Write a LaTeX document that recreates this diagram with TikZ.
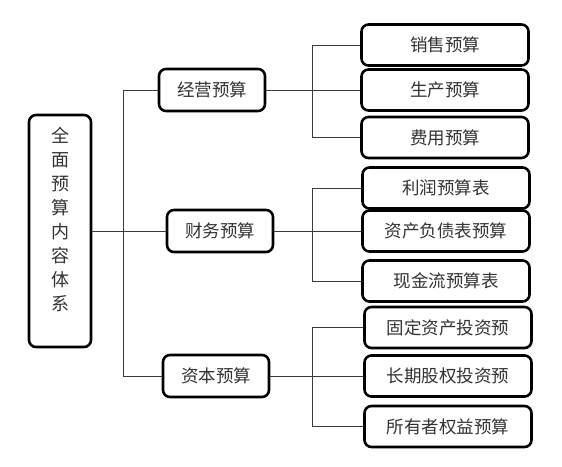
\documentclass[tikz,border=0pt]{standalone}
\usepackage{fontspec}
\newfontfamily\cjk{Noto Sans CJK SC}
\definecolor{txtgray}{HTML}{333333}
\definecolor{linegray}{HTML}{3A3A3A}
\begin{document}
\begin{tikzpicture}[x=1pt,y=-1pt,
    box/.style={draw=black, line width=2.6pt, rounded corners=7pt, inner sep=0pt,
        text=txtgray, font=\cjk\fontsize{17.5}{19}\selectfont},
    midbox/.style={box, minimum width=106pt, minimum height=42pt},
    leafbox/.style={box, minimum width=167pt, minimum height=41pt},
    conn/.style={draw=linegray, line width=1pt}]
    \useasboundingbox (0,0) rectangle (562,466);
    % 根节点
    \node[box, minimum width=62pt, minimum height=232pt, align=center,
        font=\cjk\fontsize{18}{24}\selectfont] (root) at (60,231)
        {全\\面\\预\\算\\内\\容\\体\\系\\\mbox{}};
    % 第二层
    \node[midbox] (op) at (212,90) {经营预算};
    \node[midbox] (fin) at (220,231) {财务预算};
    \node[midbox] (cap) at (216,376) {资本预算};
    % 第三层
    \node[leafbox] (sales) at (445,45) {销售预算};
    \node[leafbox] (prod) at (445,90) {生产预算};
    \node[leafbox] (cost) at (445,137.5) {费用预算};
    \node[leafbox] (profit) at (446,188) {利润预算表};
    \node[leafbox] (asset) at (446,231) {资产负债表预算};
    \node[leafbox] (cash) at (446,281) {现金流预算表};
    \node[leafbox] (fixed) at (448,327.5) {固定资产投资预};
    \node[leafbox] (equity) at (448,376) {长期股权投资预};
    \node[leafbox] (owner) at (448,426.5) {所有者权益预算};
    % 主干
    \coordinate (trunk) at (123,0);
    \draw[conn] (root.east) -- (fin.west);
    \draw[conn] (op.west) -- (op.west -| trunk) -- (cap.west -| trunk) -- (cap.west);
    % 分支
    \coordinate (br) at (312,0);
    \draw[conn] (op.east) -- (prod.west);
    \draw[conn] (sales.west) -- (sales.west -| br) -- (cost.west -| br) -- (cost.west);
    \draw[conn] (fin.east) -- (asset.west);
    \draw[conn] (profit.west) -- (profit.west -| br) -- (cash.west -| br) -- (cash.west);
    \draw[conn] (cap.east) -- (equity.west);
    \draw[conn] (fixed.west) -- (fixed.west -| br) -- (owner.west -| br) -- (owner.west);
\end{tikzpicture}
\end{document}
